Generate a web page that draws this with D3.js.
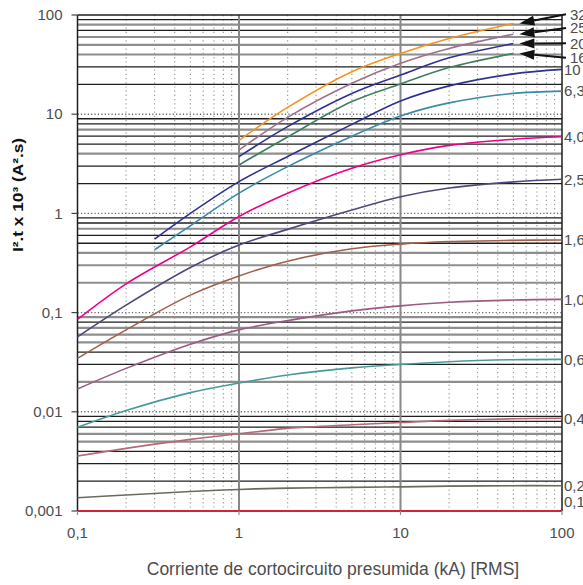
<!DOCTYPE html>
<html><head><meta charset="utf-8">
<script src="https://cdn.jsdelivr.net/npm/d3@7"></script>
<style>
body{margin:0;background:#fff}
svg{display:block}
text{font-family:"Liberation Sans",Arial,Helvetica,sans-serif}
</style>
</head><body>
<svg id="chart" width="583" height="585"></svg>
<script>
// ---------- DATA ----------
const ratings = ["32","25","20","16","10","6,3","4,0","2,5","1,6","1,0","0,6","0,4","0,2","0,1"];
const xFrom1  = [1, 2, 5, 10, 20, 50];
const xFrom03 = [0.3, 0.5, 1, 2, 5, 10, 20, 50, 100];
const xFrom01 = [0.1, 0.2, 0.5, 1, 2, 5, 10, 20, 50, 100];

const i2t32  = [5.45, 11.7, 26.8, 41, 58, 82];
const i2t25  = [4.35, 9.3, 20.5, 32.6, 46, 64];
const i2t20  = [3.73, 7.5, 16.2, 24.8, 37, 51.5];
const i2t16  = [3.08, 5.9, 13.4, 20.2, 29.5, 41];
const i2t10  = [0.55, 1.0, 2.09, 3.75, 7.9, 13.6, 19.3, 25.5, 28.3];
const i2t6_3 = [0.43, 0.75, 1.6, 2.96, 6.0, 9.6, 13.0, 16.2, 17.1];
const i2t4_0 = [0.0855, 0.195, 0.46, 0.93, 1.6, 2.85, 3.9, 4.85, 5.6, 5.93];
const i2t2_5 = [0.057, 0.119, 0.285, 0.48, 0.69, 1.08, 1.47, 1.8, 2.08, 2.21];
const i2t1_6 = [0.0346, 0.067, 0.15, 0.234, 0.33, 0.44, 0.49, 0.52, 0.535, 0.54];
const i2t1_0 = [0.017, 0.0274, 0.048, 0.067, 0.083, 0.104, 0.117, 0.127, 0.134, 0.136];
const i2t0_6 = [0.00697, 0.0103, 0.0156, 0.0195, 0.0235, 0.0277, 0.030, 0.032, 0.0335, 0.0338];
const i2t0_4 = [0.00358, 0.00428, 0.00527, 0.006, 0.0068, 0.0074, 0.0078, 0.0082, 0.0085, 0.0086];
const i2t0_2 = [0.00136, 0.00145, 0.00157, 0.00165, 0.0017, 0.00173, 0.00175, 0.00178, 0.0018, 0.0018];
const i2t0_1 = [0.001, 0.001, 0.001, 0.001, 0.001, 0.001, 0.001, 0.001, 0.001, 0.001];

// value (A²s x10³) at which each rating label sits
const labelValues = [102, 74, 52, 37, 28.3, 17.1, 5.93, 2.21, 0.54, 0.136, 0.0338, 0.0086, 0.0018, 0.00123];

const yTicks = [100, 10, 1, 0.1, 0.01, 0.001];
const yTickLabels = ["100", "10", "1", "0,1", "0,01", "0,001"];
const xTicks = [0.1, 1, 10, 100];
const xTickLabels = ["0,1", "1", "10", "100"];
const xTitle = "Corriente de cortocircuito presumida (kA) [RMS]";
const yTitle = "I².t x 10³ (A².s)";

// ---------- STYLE ----------
const curveColors = ["#f7941d","#a0708f","#2e3192","#3f7f5f","#2e3192","#3a8aa5","#ec008c",
                     "#4b4a7a","#a0604a","#9b5b84","#4a9a9a","#b46a78","#6b6b5b","#d2233c"];
// minor horizontal grid colouring per decade (k = black, g = gray), for multipliers 2..9
const gridPattern = {
  "10":    "kkgggkgk",
  "1":     "kkgkkgkk",
  "0.1":   "gggkkgkk",
  "0.01":  "gkkgggkg",
  "0.001": "kkkggkkk"
};

const series = [
  [xFrom1, i2t32], [xFrom1, i2t25], [xFrom1, i2t20], [xFrom1, i2t16],
  [xFrom03, i2t10], [xFrom03, i2t6_3],
  [xFrom01, i2t4_0], [xFrom01, i2t2_5], [xFrom01, i2t1_6], [xFrom01, i2t1_0],
  [xFrom01, i2t0_6], [xFrom01, i2t0_4], [xFrom01, i2t0_2], [xFrom01, i2t0_1]
];

// ---------- CHART ----------
const svg = d3.select("#chart");
const L = 77.5, R = 562, T = 15, B = 511;
const x = d3.scaleLog().domain([0.1, 100]).range([L, R]);
const y = d3.scaleLog().domain([0.001, 100]).range([B, T]);
const txtCol = "#4d4d4d";

const grid = svg.append("g");

// vertical minor dotted
x.ticks().filter(v => Math.abs(Math.log10(v) - Math.round(Math.log10(v))) > 1e-6).forEach(v => {
  grid.append("line").attr("x1", x(v)).attr("x2", x(v)).attr("y1", T).attr("y2", B)
    .attr("stroke", "#9a9a9a").attr("stroke-width", 1.2).attr("stroke-dasharray", "1.2,3");
});

// horizontal minor solid (black / gray)
y.ticks().forEach(v => {
  const lg = Math.log10(v);
  if (Math.abs(lg - Math.round(lg)) < 1e-6) return;
  const dec = Math.pow(10, Math.floor(lg + 1e-9));
  const k = Math.round(v / dec);
  const key = String(+dec.toPrecision(3));
  const pat = gridPattern[key];
  if (!pat) return;
  const c = pat[k - 2];
  grid.append("line").attr("x1", L).attr("x2", R).attr("y1", y(v)).attr("y2", y(v))
    .attr("stroke", c === "k" ? "#1e1e1e" : "#8e8e8e")
    .attr("stroke-width", c === "k" ? 1.3 : 2.2);
});

// horizontal major dotted
yTicks.filter(v => v < 100 && v > 0.001).forEach(v => {
  grid.append("line").attr("x1", L).attr("x2", R).attr("y1", y(v)).attr("y2", y(v))
    .attr("stroke", "#666").attr("stroke-width", 1.4).attr("stroke-dasharray", "1.2,2.2");
});

// vertical major solid gray
xTicks.filter(v => v > 0.1 && v < 100).forEach(v => {
  grid.append("line").attr("x1", x(v)).attr("x2", x(v)).attr("y1", T).attr("y2", B)
    .attr("stroke", "#888").attr("stroke-width", 2);
});

// frame
svg.append("line").attr("x1", L).attr("x2", R).attr("y1", T).attr("y2", T).attr("stroke", "#1e1e1e").attr("stroke-width", 1.5);
svg.append("line").attr("x1", L).attr("x2", R).attr("y1", B).attr("y2", B).attr("stroke", "#1e1e1e").attr("stroke-width", 1.5);
svg.append("line").attr("x1", R).attr("x2", R).attr("y1", T).attr("y2", B).attr("stroke", "#1e1e1e").attr("stroke-width", 1.5);
svg.append("line").attr("x1", L).attr("x2", L).attr("y1", T).attr("y2", B).attr("stroke", "#1e1e1e").attr("stroke-width", 1.5);

// curves
const line = d3.line().x(d => x(d[0])).y(d => y(d[1])).curve(d3.curveCatmullRom.alpha(0.5));
series.forEach((s, i) => {
  const pts = s[0].map((xv, j) => [xv, s[1][j]]);
  svg.append("path").attr("d", line(pts)).attr("fill", "none")
    .attr("stroke", curveColors[i]).attr("stroke-width", i === 13 ? 2.2 : 1.6);
});

// y axis ticks and labels
yTicks.forEach((v, i) => {
  svg.append("line").attr("x1", L - 6).attr("x2", L).attr("y1", y(v)).attr("y2", y(v))
    .attr("stroke", "#444").attr("stroke-width", 1.2);
  svg.append("text").attr("x", L - 15).attr("y", y(v)).attr("dy", "0.35em")
    .attr("text-anchor", "end").attr("font-size", 15).attr("fill", txtCol).text(yTickLabels[i]);
});

// x axis ticks and labels
xTicks.forEach((v, i) => {
  svg.append("line").attr("x1", x(v)).attr("x2", x(v)).attr("y1", B).attr("y2", B + 4)
    .attr("stroke", "#8890a0").attr("stroke-width", 1.2);
  svg.append("text").attr("x", x(v)).attr("y", B + 27)
    .attr("text-anchor", "middle").attr("font-size", 15).attr("fill", txtCol).text(xTickLabels[i]);
});

// titles
svg.append("text").attr("x", 333).attr("y", 575).attr("text-anchor", "middle")
  .attr("font-size", 17.5).attr("fill", txtCol).text(xTitle);
svg.append("text").attr("transform", "translate(23,195) rotate(-90)").attr("text-anchor", "middle")
  .attr("font-size", 14.5).attr("font-weight", "bold").attr("fill", "#111")
  .attr("textLength", 114).attr("lengthAdjust", "spacingAndGlyphs").text(yTitle);

// rating labels and arrows
ratings.forEach((r, i) => {
  const ly = y(labelValues[i]);
  const arrow = i < 4;
  svg.append("text").attr("x", arrow ? 570 : 564).attr("y", ly).attr("dy", "0.36em")
    .attr("font-size", 15).attr("fill", txtCol).text(r);
  if (arrow) {
    const s = series[i];
    const n = s[0].length - 1;
    const tx = x(s[0][n]) + 6, ty = y(s[1][n]);
    const sx = 566, sy = ly;
    const ang = Math.atan2(ty - sy, tx - sx);
    const hl = 15, hw = 5;
    const bx = tx - hl * Math.cos(ang), by = ty - hl * Math.sin(ang);
    svg.append("line").attr("x1", sx).attr("y1", sy).attr("x2", bx).attr("y2", by)
      .attr("stroke", "#111").attr("stroke-width", 2);
    const px = -Math.sin(ang) * hw, py = Math.cos(ang) * hw;
    svg.append("path").attr("d", `M${tx},${ty}L${bx + px},${by + py}L${bx - px},${by - py}Z`).attr("fill", "#111");
  }
});
</script>
</body></html>
